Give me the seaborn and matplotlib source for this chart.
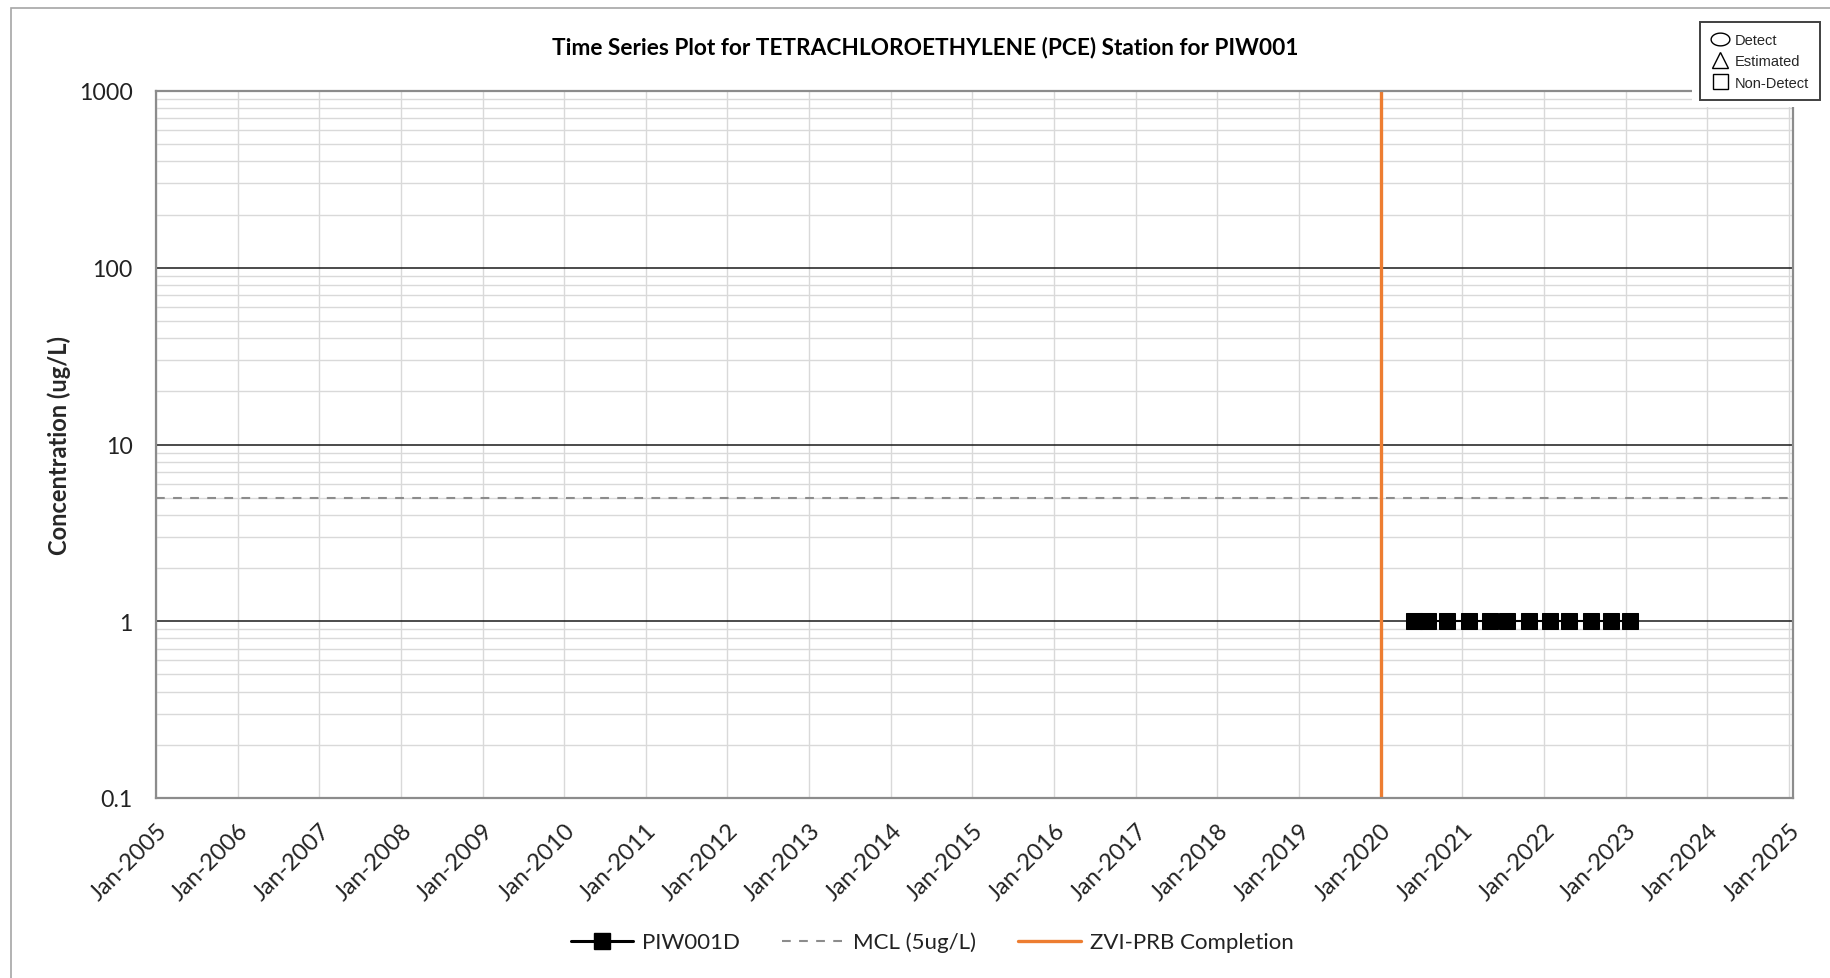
import numpy as np
import pandas as pd
import matplotlib
matplotlib.use("Agg")
import matplotlib.pyplot as plt
import matplotlib.dates as mdates
import seaborn as sns
from matplotlib.ticker import FixedLocator, FixedFormatter, NullFormatter
from matplotlib.lines import Line2D
from matplotlib.patches import Rectangle
from matplotlib.path import Path

# ---------------- data ----------------
sample_dates = ["2020-05-28", "2020-07-30", "2020-10-22", "2021-01-29",
                "2021-05-04", "2021-07-19", "2021-10-24", "2022-01-27",
                "2022-04-23", "2022-07-29", "2022-10-26", "2023-01-21"]
pce_values = [1.0, 1.0, 1.0, 1.0, 1.0, 1.0, 1.0, 1.0, 1.0, 1.0, 1.0, 1.0]
mcl_value = 5.0
zvi_completion_date = "2020-01-01"
y_ticks = [0.1, 1, 10, 100, 1000]
y_tick_labels = ["0.1", "1", "10", "100", "1000"]
x_tick_years = list(range(2005, 2026))
title_text = "Time Series Plot for TETRACHLOROETHYLENE (PCE) Station for PIW001"
series_label = "PIW001D"
mcl_label = "MCL (5ug/L)"
zvi_label = "ZVI-PRB Completion"
key_labels = ["Detect", "Estimated", "Non-Detect"]

# ---------------- style ----------------
sns.set_style("white")
plt.rcParams['font.family'] = ['Lato', 'DejaVu Sans']

W, H = 1831, 979
fig = plt.figure(figsize=(W / 100, H / 100), dpi=100)
fig.patch.set_facecolor("white")

def fx(px):
    return px / W

def fy(py):
    return 1 - py / H

ax_l, ax_r, ax_t, ax_b = 156, 1793, 92, 799
ax = fig.add_axes([fx(ax_l), fy(ax_b), fx(ax_r - ax_l), (ax_b - ax_t) / H])

df = pd.DataFrame({"date": pd.to_datetime(sample_dates), "conc": pce_values})

# grid: minor horizontal lines
ax.set_yscale("log")
ax.set_ylim(y_ticks[0], y_ticks[-1])
minor_vals = [m * 10.0 ** e for e in range(-1, 3) for m in range(2, 10)]
ax.yaxis.set_minor_locator(FixedLocator(minor_vals))
ax.yaxis.set_minor_formatter(NullFormatter())
ax.yaxis.set_major_locator(FixedLocator(y_ticks))
ax.yaxis.set_major_formatter(FixedFormatter(y_tick_labels))
ax.grid(True, which="minor", axis="y", color="#d9d9d9", lw=1.0, zorder=0)
ax.grid(True, which="major", axis="y", color="#1a1a1a", lw=1.1, zorder=0)

year_ticks = [pd.Timestamp(f"{y}-01-01") for y in x_tick_years]
ax.xaxis.set_major_locator(FixedLocator(mdates.date2num(year_ticks)))
ax.xaxis.set_major_formatter(mdates.DateFormatter("Jan-%Y"))
ax.grid(True, which="major", axis="x", color="#d9d9d9", lw=1.0, zorder=0)
ax.set_axisbelow(True)

# MCL line
ax.axhline(mcl_value, color="#8c8c8c", lw=1.5, ls=(0, (4.2, 4.0)), zorder=1)
# ZVI completion
ax.axvline(pd.Timestamp(zvi_completion_date), color="#ED7D31", lw=2.4, zorder=2)

# series
sns.lineplot(data=df, x="date", y="conc", ax=ax, color="black", lw=1.5,
             marker="s", markersize=11.5, markeredgecolor="black",
             markerfacecolor="black", zorder=3, legend=False)

ax.set_xlim(pd.Timestamp("2005-01-01"), pd.Timestamp("2025-01-19"))
ax.set_xlabel("")
ax.set_ylabel("Concentration (ug/L)", fontsize=17, fontweight="bold")
ax.yaxis.set_label_coords((71 - ax_l) / (ax_r - ax_l), 0.5)

for s in ax.spines.values():
    s.set_visible(True)
    s.set_color("#8c8c8c")
    s.set_linewidth(1.6)

ax.tick_params(axis="x", which="major", direction="out", length=5.5, width=1,
               color="#8c8c8c", labelsize=17, pad=10, labelcolor="#222222")
ax.tick_params(axis="y", which="major", direction="out", length=5.8, width=1,
               color="#8c8c8c", labelsize=16.7, pad=11, labelcolor="#222222")
ax.tick_params(axis="y", which="minor", length=0)
for lbl in ax.get_xticklabels():
    lbl.set_rotation(45)
    lbl.set_ha("right")
    lbl.set_va("top")
    lbl.set_rotation_mode("anchor")

# title
fig.text(fx(925), fy(48), title_text, ha="center", va="center",
         fontsize=16.3, fontweight="bold", color="black")

# bottom legend
handles = [
    Line2D([], [], color="black", lw=2.2, marker="s", markersize=11, markerfacecolor="black"),
    Line2D([], [], color="#8c8c8c", lw=1.5, ls=(0, (4.2, 4.0))),
    Line2D([], [], color="#ED7D31", lw=2.4),
]
leg = fig.legend(handles, [series_label, mcl_label, zvi_label], loc="center",
                 bbox_to_anchor=(fx(932), fy(943)), ncol=3, frameon=False,
                 fontsize=16, handlelength=2.8, handletextpad=0.4,
                 columnspacing=1.9, markerscale=1.0)
for t in leg.get_texts():
    t.set_color("#222222")

# white cover at top-right + symbol key
fig.patches.append(Rectangle((fx(1692), fy(108)), fx(W - 1692), (108 - 10) / H,
                             transform=fig.transFigure, facecolor="white",
                             edgecolor="none", zorder=4))
theta = np.linspace(0, 2 * np.pi, 60)
ellipse_marker = Path(np.column_stack([np.cos(theta), 0.68 * np.sin(theta)]), closed=True)
key_handles = [
    Line2D([], [], ls="none", marker=ellipse_marker, markersize=13.5, markerfacecolor="none",
           markeredgecolor="black", markeredgewidth=1.0),
    Line2D([], [], ls="none", marker="^", markersize=11.5, markerfacecolor="none",
           markeredgecolor="black", markeredgewidth=1.0),
    Line2D([], [], ls="none", marker="s", markersize=10.8, markerfacecolor="none",
           markeredgecolor="black", markeredgewidth=1.0),
]
key = fig.legend(key_handles, key_labels, loc="upper left",
                 bbox_to_anchor=(fx(1700), fy(23)), frameon=True, fancybox=False,
                 edgecolor="#404040", framealpha=1.0,
                 prop={"family": ["Liberation Sans", "DejaVu Sans"], "size": 10.5},
                 handlelength=1.3, handletextpad=0.35, labelspacing=0.5,
                 borderpad=0.75, borderaxespad=0.0)
key.set_zorder(6)
key.get_frame().set_linewidth(1.4)

# outer chart border
fig.patches.append(Rectangle((fx(11), -0.05), 1.2, fy(9) + 0.05,
                             transform=fig.transFigure, facecolor="none",
                             edgecolor="#a6a6a6", lw=1.2, zorder=7))

fig.savefig("out.png", dpi=100, facecolor="white")
